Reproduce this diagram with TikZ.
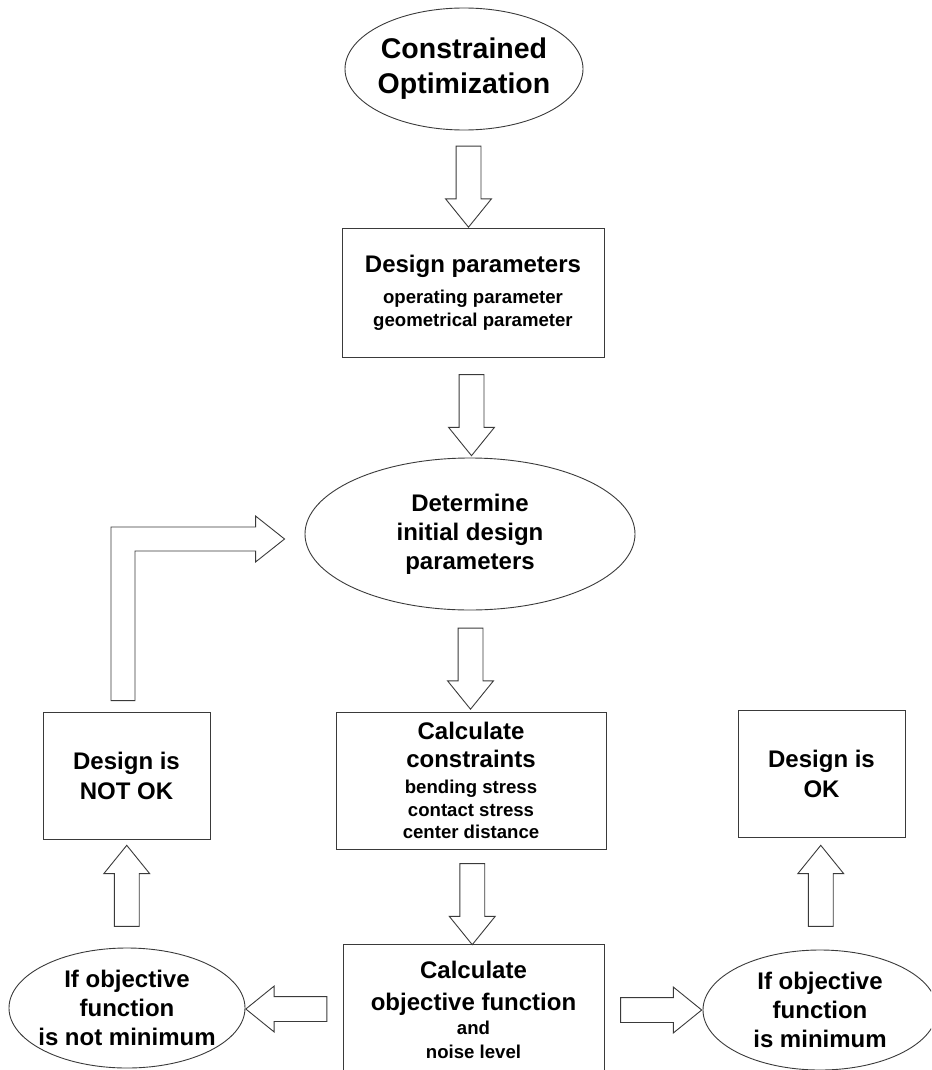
\documentclass[tikz,border=0pt]{standalone}
\usepackage{fontspec}
\setmainfont{Liberation Sans}
\usetikzlibrary{calc, shapes.geometric, shapes.arrows}
\definecolor{linea}{HTML}{3A3A3A}

\newcommand{\bigtxt}{\fontsize{24}{30}\selectfont}
\newcommand{\smalltxt}{\fontsize{18.6}{22.5}\selectfont}

\tikzset{
  box/.style={draw=linea, line width=0.9pt, align=center, inner sep=0pt,
              font=\bfseries\bigtxt},
  oval/.style={ellipse, draw=linea, line width=0.9pt, align=center,
               inner sep=-6pt, font=\bfseries\fontsize{24}{29}\selectfont},
  barrow/.style={single arrow, draw=linea, line width=0.9pt,
                 minimum height=81pt, minimum width=45pt,
                 inner xsep=0pt, inner ysep=12pt,
                 single arrow head extend=10.5pt, single arrow tip angle=78},
}

\begin{document}
\begin{tikzpicture}[x=1pt, y=-1pt]
\useasboundingbox (0,0) rectangle (931,1070);
\clip (0,0) rectangle (931,1070);

% main column
\node[oval, minimum width=238pt, minimum height=122pt,
      font=\bfseries\fontsize{28.5}{35}\selectfont] (opt) at (464,69)
  {Constrained\\Optimization};
\node[box, minimum width=262pt, minimum height=129pt, font=\bfseries\smalltxt] (par) at (473,292.5) {
  {\bigtxt Design parameters}\\[9pt]
  operating parameter\\
  geometrical parameter
};
\node[oval, minimum width=330pt, minimum height=152pt] (init) at (470,534)
  {Determine\\initial design\\parameters};
\node[box, minimum width=270pt, minimum height=137pt, font=\bfseries\smalltxt] (calc) at (471,780.5) {
  {\bigtxt Calculate}\\[5.5pt]
  {\bigtxt constraints}\\[4pt]
  bending stress\\
  contact stress\\
  center distance
};
\node[box, minimum width=261pt, minimum height=132pt, font=\bfseries\smalltxt] (obj) at (473.5,1010) {
  {\bigtxt Calculate}\\[9.5pt]
  {\bigtxt objective function}\\[1pt]
  and\\[1.5pt]
  noise level
};

% side columns
\node[oval, minimum width=236pt, minimum height=120pt] (notmin) at (127,1008)
  {If objective\\function\\is not minimum};
\node[oval, minimum width=234pt, minimum height=120pt] (ismin) at (820,1010)
  {If objective\\function\\is minimum};
\node[box, minimum width=167pt, minimum height=127pt] (notok) at (126.5,775.5)
  {Design is\\NOT OK};
\node[box, minimum width=167pt, minimum height=127pt] (ok) at (821.5,773.5)
  {Design is\\OK};

% block arrows
\node[barrow, rotate=-90] (a1) at ($(opt.south)!0.5!(par.north)$) {};
\node[barrow, rotate=-90] (a2) at ($(par.south)!0.5!(init.north)$) {};
\node[barrow, rotate=-90] (a3) at ($(init.south)!0.5!(calc.north)$) {};
\node[barrow, rotate=-90] (a4) at ($(calc.south)!0.5!(obj.north)$) {};
\node[barrow, rotate=180] (a5) at ($(obj.west)!0.5!(notmin.east)$) {};
\node[barrow] (a6) at ($(obj.east)!0.5!(ismin.west)$) {};
\node[barrow, rotate=90] (a7) at ($(notmin.north)!0.5!(notok.south)$) {};
\node[barrow, rotate=90] (a8) at ($(ismin.north)!0.5!(ok.south)$) {};

% bent arrow back to the start values
\coordinate (lb) at ([xshift=-3.5pt, yshift=11pt]notok.north);
\coordinate (lt) at ([xshift=-20pt, yshift=-5pt]init.west);
\draw[linea, line width=0.9pt] let \p1=(lb), \p2=(lt) in
  (\x1-12pt,\y1) -- (\x1-12pt,\y2+12pt) -- (\x2-29pt,\y2+12pt)
  -- (\x2-29pt,\y2+23pt) -- (\x2,\y2) -- (\x2-29pt,\y2-23pt)
  -- (\x2-29pt,\y2-12pt) -- (\x1+12pt,\y2-12pt) -- (\x1+12pt,\y1) -- cycle;
\end{tikzpicture}
\end{document}
